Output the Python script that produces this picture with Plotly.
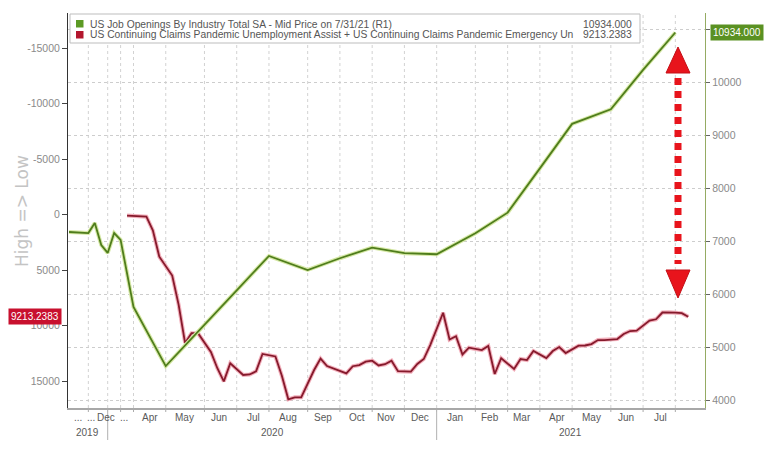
import numpy as np
import pandas as pd
import plotly.graph_objects as go

# ---------------- data ----------------
try:
    jobs_dates = pd.date_range("2019-06-30", "2021-07-31", freq="ME")
except Exception:
    jobs_dates = pd.date_range("2019-06-30", "2021-07-31", freq="M")

jobs_values = [7170, 7160, 7150, 7150, 7340, 6925, 6775,
               7150, 7020, 5755, 4640, 5430, 6070, 6717, 6453, 6675, 6875, 6770, 6750,
               7145, 7535, 8370, 9210, 9485, 10230, 10934]

claims_dates = pd.date_range("2020-03-28", "2021-08-14", freq="7D")
claims_values = [100,
                 170, 200, 1430, 3800,
                 5500, 8135, 11580, 10700, 10700,
                 12390, 13850, 15030, 13400,
                 14460, 14410, 14130, 12560,
                 12790, 14530, 16650, 16470, 16470,
                 14010, 12980, 13650, 13860,
                 14310, 13670, 13560, 13260, 13170,
                 13600, 13490, 13170, 14120,
                 14160, 13470, 13020, 11760,
                 8850, 11260, 10970, 12610, 12000,
                 12210, 11850, 14370, 12950,
                 13920, 13020, 13110, 12300,
                 12930, 12300, 11940, 12480,
                 11820, 11800, 11670, 11310, 11310,
                 11220, 10770, 10500, 10470,
                 9550, 9440, 8830, 8810, 8840,
                 8890, 9213.2383]

jobs_name = "US Job Openings By Industry Total SA - Mid Price on 7/31/21 (R1)"
claims_name = ("US Continuing Claims Pandemic Unemployment Assist + "
               "US Continuing Claims Pandemic Emergency Un")

month_label_dates = ["2019-08-10", "2019-10-15", "2019-12-25", "2020-03-15",
                     "2020-04-15", "2020-05-15", "2020-06-15", "2020-07-15", "2020-08-15",
                     "2020-09-15", "2020-10-15", "2020-11-15", "2020-12-15",
                     "2021-01-15", "2021-02-15", "2021-03-15", "2021-04-15", "2021-05-15",
                     "2021-06-15", "2021-07-15"]
month_label_text = ["...", "...", "Dec", "...", "Apr", "May", "Jun", "Jul", "Aug", "Sep",
                    "Oct", "Nov", "Dec", "Jan", "Feb", "Mar", "Apr", "May", "Jun", "Jul"]
years = ["2019", "2020", "2021"]

left_ticks = [-15000, -10000, -5000, 0, 5000, 10000, 15000]
left_tick_text = ["-15000", "-10000", "-5000", "0", "5000", "10000", "15000"]
right_ticks = [4000, 5000, 6000, 7000, 8000, 9000, 10000, 11000]
right_tick_text = ["4000", "5000", "6000", "7000", "8000", "9000", "10000", ""]

# ---------------- observation-index axis (union of dates) ----------------
all_dates = sorted(set(jobs_dates) | set(claims_dates))
pos = {d: i for i, d in enumerate(all_dates)}
ords = np.array([d.value for d in all_dates], dtype=float)


def date_pos(d):
    return float(np.interp(pd.Timestamp(d).value, ords, np.arange(len(all_dates))))


jobs_x = [pos[d] for d in jobs_dates]
claims_x = [pos[d] for d in claims_dates]
label_x = [date_pos(d) for d in month_label_dates]

x_lo, x_hi = -0.155, 98.6

grid_dates = [d for d in jobs_dates if d >= pd.Timestamp("2020-02-29") or d.month in (9, 12)]
grid_x = [pos[d] for d in grid_dates]
year_ends = [d for d in jobs_dates if d.month == 12]
year_end_x = [pos[d] for d in year_ends]
year_bounds = [x_lo] + year_end_x + [x_hi]
year_x = [(year_bounds[i] + year_bounds[i + 1]) / 2 for i in range(len(years))]

GREEN = "#4f7d1c"
GREEN_GLOW = "#d6e8a6"
RED = "#861a2c"
RED_GLOW = "#f2b0bc"
FONT = "Liberation Sans"

fig = go.Figure()
fig.add_trace(go.Scatter(x=jobs_x, y=jobs_values, yaxis="y2", mode="lines",
                         line=dict(color=GREEN_GLOW, width=4), hoverinfo="skip",
                         showlegend=False))
fig.add_trace(go.Scatter(x=jobs_x, y=jobs_values, yaxis="y2", mode="lines",
                         line=dict(color=GREEN, width=1.8), name=jobs_name, showlegend=False))
fig.add_trace(go.Scatter(x=claims_x, y=claims_values, yaxis="y", mode="lines",
                         line=dict(color=RED_GLOW, width=4), hoverinfo="skip",
                         showlegend=False))
fig.add_trace(go.Scatter(x=claims_x, y=claims_values, yaxis="y", mode="lines",
                         line=dict(color=RED, width=1.8), name=claims_name, showlegend=False))

# paper helpers (plot area: 68..705 x 13..408)
W, H, L, B = 637.0, 395.0, 68.0, 41.0


def px(xp):
    return (xp - L) / W


def py(yp):
    return (449 - B - yp) / H


shapes = []
for gx in grid_x:
    shapes.append(dict(type="line", xref="x", yref="paper", x0=gx, x1=gx, y0=0, y1=1,
                       line=dict(color="#d2d2d2", width=1, dash="dot"), layer="below"))
    shapes.append(dict(type="line", xref="x", yref="paper", x0=gx, x1=gx, y0=0, y1=py(412),
                       line=dict(color="#aaaaaa", width=1)))
for yx in year_end_x:
    shapes.append(dict(type="line", xref="x", yref="paper", x0=yx, x1=yx, y0=py(412), y1=py(440),
                       line=dict(color="#b0b0b0", width=1)))

shapes.append(dict(type="rect", xref="paper", yref="paper", x0=px(70), x1=px(640),
                   y0=py(43), y1=py(14), fillcolor="white",
                   line=dict(color="#bdbdbd", width=1)))
shapes.append(dict(type="rect", xref="paper", yref="paper", x0=px(76), x1=px(83.5),
                   y0=py(27.5), y1=py(20), fillcolor="#5c9a24", line=dict(width=0)))
shapes.append(dict(type="rect", xref="paper", yref="paper", x0=px(76), x1=px(83.5),
                   y0=py(38.5), y1=py(31), fillcolor="#b3172e", line=dict(width=0)))

# big dotted red double arrow
ARROW = "#e8141c"
ax = px(678)
shapes.append(dict(type="line", xref="paper", yref="paper", x0=ax, x1=ax, y0=py(78), y1=py(264),
                   line=dict(color=ARROW, width=7, dash="7px,6px")))
shapes.append(dict(type="path", xref="paper", yref="paper",
                   path=f"M {px(666)},{py(73)} L {px(690)},{py(73)} L {ax},{py(47)} Z",
                   fillcolor=ARROW, line=dict(color="#c40f16", width=1)))
shapes.append(dict(type="path", xref="paper", yref="paper",
                   path=f"M {px(666)},{py(270)} L {px(690)},{py(270)} L {ax},{py(298)} Z",
                   fillcolor=ARROW, line=dict(color="#c40f16", width=1)))

annotations = []
for lx, lt in zip(label_x, month_label_text):
    annotations.append(dict(x=lx, xref="x", y=py(418), yref="paper", text=lt, showarrow=False,
                            xanchor="center", yanchor="middle",
                            font=dict(family=FONT, size=10, color="#5a5a5a")))
for yx, yt in zip(year_x, years):
    annotations.append(dict(x=yx, xref="x", y=py(432), yref="paper", text=yt, showarrow=False,
                            xanchor="center", yanchor="middle",
                            font=dict(family=FONT, size=10, color="#5a5a5a")))
annotations.append(dict(x=px(22), y=py(211), xref="paper", yref="paper", text="High => Low",
                        textangle=-90, showarrow=False, xanchor="center", yanchor="middle",
                        font=dict(family="DejaVu Sans", size=17, color="#c4c4c4")))
annotations.append(dict(x=px(88), y=py(24), xref="paper", yref="paper", text=jobs_name,
                        xanchor="left", yanchor="middle", showarrow=False,
                        font=dict(family=FONT, size=10.3, color="#555")))
annotations.append(dict(x=px(88), y=py(35), xref="paper", yref="paper", text=claims_name,
                        xanchor="left", yanchor="middle", showarrow=False,
                        font=dict(family=FONT, size=10.3, color="#555")))
annotations.append(dict(x=px(634), y=py(24), xref="paper", yref="paper",
                        text=f"{jobs_values[-1]:.3f}", xanchor="right", yanchor="middle",
                        showarrow=False, font=dict(family=FONT, size=10.3, color="#555")))
annotations.append(dict(x=px(634), y=py(35), xref="paper", yref="paper",
                        text=f"{claims_values[-1]:.4f}", xanchor="right", yanchor="middle",
                        showarrow=False, font=dict(family=FONT, size=10.3, color="#555")))
annotations.append(dict(x=1, xref="paper", xshift=5, y=jobs_values[-1], yref="y2",
                        text=f"{jobs_values[-1]:.3f}", xanchor="left", yanchor="middle",
                        showarrow=False, bgcolor="#5a9122", borderpad=2,
                        font=dict(family=FONT, size=10, color="white")))
annotations.append(dict(x=0, xref="paper", xshift=-6, y=claims_values[-1], yref="y",
                        text=f"{claims_values[-1]:.4f}", xanchor="right", yanchor="middle",
                        showarrow=False, bgcolor="#c8102e", borderpad=2,
                        font=dict(family=FONT, size=10, color="white")))

fig.update_layout(
    width=772, height=449,
    margin=dict(l=68, r=67, t=13, b=41),
    paper_bgcolor="white", plot_bgcolor="white",
    showlegend=False,
    font=dict(family=FONT, size=10, color="#666"),
    xaxis=dict(range=[x_lo, x_hi], showticklabels=False, ticks="",
               showgrid=False, zeroline=False, showline=True,
               linecolor="#a8a8a8", linewidth=1.5),
    yaxis=dict(range=[17432, -18153], tickmode="array", tickvals=left_ticks,
               ticktext=left_tick_text, ticks="outside", ticklen=5, tickcolor="#444",
               showgrid=False, zeroline=False, showline=True, linecolor="#333", linewidth=1,
               tickfont=dict(size=10.5, color="#8a8a8a")),
    yaxis2=dict(range=[3849, 11302], overlaying="y", side="right", tickmode="array",
                tickvals=right_ticks, ticktext=right_tick_text, ticks="outside", ticklen=4,
                tickcolor="#666", showgrid=True, gridcolor="#cdcdcd", griddash="dot",
                zeroline=False, showline=True, linecolor="#95ab63", linewidth=1.2,
                tickfont=dict(size=10.5, color="#8a8a8a")),
    shapes=shapes,
    annotations=annotations,
)

fig.write_html("out.html")
